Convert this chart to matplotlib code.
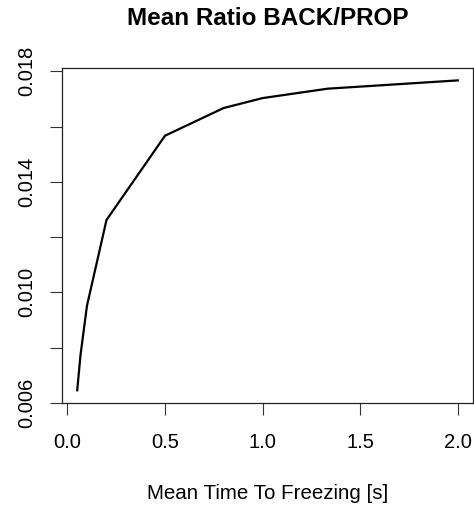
import matplotlib
matplotlib.use("Agg")
import matplotlib.pyplot as plt
import numpy as np

# Mean time to freezing [s] and mean BACK/PROP ratio
time_to_freezing = [0.05, 0.0667, 0.1, 0.2, 0.5, 0.8, 1.0, 1.333, 2.0]
ratio_back_prop = [0.00646, 0.00773, 0.00952, 0.01262, 0.01567, 0.01667, 0.01703, 0.01737, 0.01767]

x_ticks = [0.0, 0.5, 1.0, 1.5, 2.0]
x_tick_labels = ["0.0", "0.5", "1.0", "1.5", "2.0"]
y_ticks = [0.006, 0.008, 0.010, 0.012, 0.014, 0.016, 0.018]
y_tick_labels = ["0.006", "", "0.010", "", "0.014", "", "0.018"]

plt.rcParams["font.family"] = ["Liberation Sans", "DejaVu Sans"]

fig = plt.figure(figsize=(4.74, 5.09), dpi=100)
ax = fig.add_axes([62 / 474, 106 / 509, 411 / 474, 335 / 509])

ax.plot(time_to_freezing, ratio_back_prop, color="black", lw=1.6,
        solid_joinstyle="miter")


def padded(lo, hi, frac=0.04):
    r = hi - lo
    return lo - frac * r, hi + frac * r


ax.set_xlim(*padded(min(time_to_freezing), max(time_to_freezing)))
ax.set_ylim(*padded(min(ratio_back_prop), max(ratio_back_prop)))

ax.set_xticks(x_ticks)
ax.set_xticklabels(x_tick_labels, fontsize=14.5)
ax.set_yticks(y_ticks)
ax.set_yticklabels(y_tick_labels, fontsize=14.5, rotation=90, va="center")

ax.tick_params(axis="both", direction="out", length=8.5, width=0.8,
               color="#333333", pad=13)
ax.tick_params(axis="y", pad=10)

for s in ax.spines.values():
    s.set_color("#222222")
    s.set_linewidth(0.9)

ax.set_title("Mean Ratio BACK/PROP", fontsize=17.5, fontweight="bold", pad=31)
ax.set_xlabel("Mean Time To Freezing [s]", fontsize=14.8, labelpad=23)

fig.savefig("out.png", dpi=100)
